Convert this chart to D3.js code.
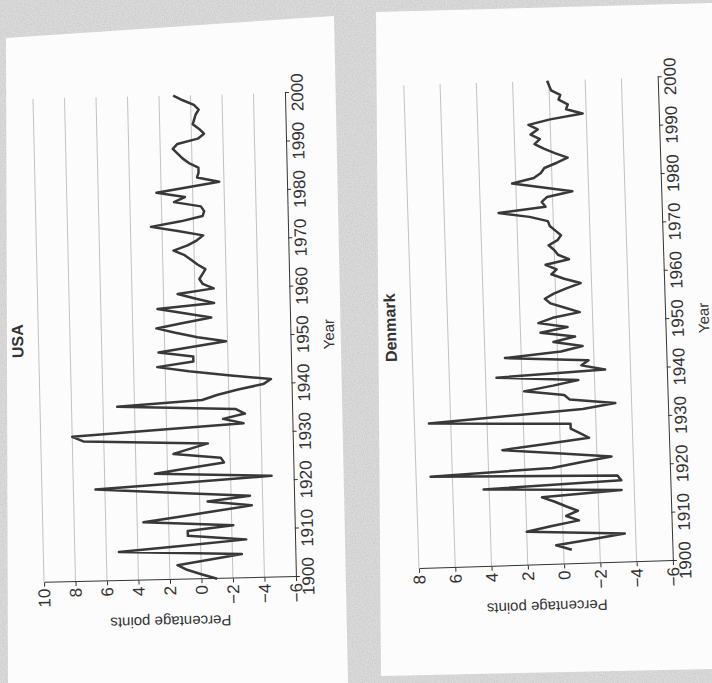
<!DOCTYPE html>
<html><head><meta charset="utf-8">
<script src="https://cdn.jsdelivr.net/npm/d3@7"></script>
<style>html,body{margin:0;padding:0;background:#d6d6d6;overflow:hidden}</style>
</head><body>
<svg id="c" width="712" height="683"></svg>
<script>
// ---------------- data ----------------
const xTickLabels = [1900,1910,1920,1930,1940,1950,1960,1970,1980,1990,2000];
const usaYTicks = [-6,-4,-2,0,2,4,6,8,10];
const dkYTicks  = [-6,-4,-2,0,2,4,6,8];

const usaYears = [1900,1901,1902,1903,1904,1905,1906,1907,1908,1909,1910,1911,1912,1913,1914,1915,1916,1917,1918,1919,
  1920,1921,1922,1923,1924,1925,1926,1927,1928,1929,1930,1931,1932,1933,1934,1935,1936,1937,1938,1939,
  1940,1941,1942,1943,1944,1945,1946,1947,1948,1949,1950,1951,1952,1953,1954,1955,1956,1957,1958,1959,
  1960,1961,1962,1963,1964,1965,1966,1967,1968,1969,1970,1971,1972,1973,1974,1975,1976,1977,1978,1979,
  1980,1981,1982,1983,1984,1985,1986,1987,1988,1989,1990,1991,1992,1993,1994,1995,1996,1997,1998,1999,2000];
const usaValues = [-1.0,0.0,0.9,1.5,-0.6,-2.6,5.2,1.1,-2.9,0.8,0.8,-2.1,3.6,1.3,-1.0,-3.3,-0.5,-3.2,1.7,6.6,
  1.0,-4.6,2.8,0.6,-1.6,-1.4,1.6,0.5,-0.6,7.3,8.0,2.6,-2.9,-1.6,-3.0,-2.4,5.1,-0.3,-1.3,-2.6,
  -4.2,-4.7,-2.0,0.5,2.5,0.2,0.2,2.4,0.3,-1.9,-0.1,1.3,2.5,0.8,-1.0,0.7,2.4,-1.2,0.0,1.1,
  -1.2,-0.5,-0.3,-0.5,-0.7,-0.2,0.2,0.6,1.3,0.4,-0.2,-0.6,1.0,2.7,0.8,-0.6,-0.7,-0.5,1.2,0.5,
  2.3,0.3,-1.7,-0.3,-0.4,-0.4,0.2,0.6,0.9,1.2,0.9,-0.4,-0.8,-0.5,-0.1,-0.2,-0.3,-0.5,-0.2,0.5,1.1];

const dkYears = [1903,1904,1905,1906,1907,1908,1909,1910,1911,1912,1913,1914,1915,1916,1917,1918,1919,
  1920,1921,1922,1923,1924,1925,1926,1927,1928,1929,1930,1931,1932,1933,1934,1935,1936,1937,1938,1939,
  1940,1941,1942,1943,1944,1945,1946,1947,1948,1949,1950,1951,1952,1953,1954,1955,1956,1957,1958,1959,
  1960,1961,1962,1963,1964,1965,1966,1967,1968,1969,1970,1971,1972,1973,1974,1975,1976,1977,1978,1979,
  1980,1981,1982,1983,1984,1985,1986,1987,1988,1989,1990,1991,1992,1993,1994,1995,1996,1997,1998,1999,2000];
const dkValues = [-0.45,0.4,-1.5,-3.4,2.0,0.6,-0.9,-0.2,-0.85,-0.2,0.4,1.1,-3.3,4.3,-3.3,-3.1,7.2,
  0.5,-1.1,-2.8,0.2,3.2,0.8,-1.6,-1.1,-0.6,-0.6,7.2,3.0,-1.3,-3.1,-0.6,-0.3,1.9,0.3,-1.1,3.4,
  -2.6,-1.3,-1.7,2.9,-0.2,-1.4,0.2,-1.0,0.9,-0.6,1.0,0.2,-1.3,-0.5,0.3,0.6,0.1,-0.6,-1.4,-0.5,
  0.2,-0.1,0.5,-0.8,-0.2,0.0,0.3,-0.2,-0.4,-0.1,0.2,0.3,1.3,3.0,0.4,0.6,0.3,-1.1,0.5,2.2,
  1.0,0.6,0.4,-0.3,-0.9,-0.2,0.4,0.9,0.6,1.1,0.7,1.2,0.0,-1.8,-0.9,-1.0,-0.5,-0.6,-0.1,0.0,0.1];

// ---------------- page / background ----------------
const svg = d3.select('#c');
const defs = svg.append('defs');
const f = defs.append('filter').attr('id','noise').attr('x',0).attr('y',0).attr('width','100%').attr('height','100%');
f.append('feTurbulence').attr('type','fractalNoise').attr('baseFrequency',0.9).attr('numOctaves',2).attr('seed',4).attr('result','t');
f.append('feColorMatrix').attr('in','t').attr('type','matrix')
  .attr('values','0 0 0 0 0.55  0 0 0 0 0.55  0 0 0 0 0.55  1.4 0 0 0 -0.45');
svg.append('rect').attr('width',712).attr('height',683).attr('fill','#dcdcdc');
svg.append('rect').attr('width',712).attr('height',683).attr('filter','url(#noise)');

const pages = [
  [[6,38],[334,16],[348,683],[8,683]],
  [[376,12],[712,3],[712,669],[381,676]]
];
svg.selectAll('polygon.page').data(pages).join('polygon').attr('class','page')
  .attr('points', d => d.map(p => p.join(',')).join(' '))
  .attr('fill','#fcfcfc');

// ---------------- panels ----------------
const font = "'Liberation Sans', Arial, Helvetica, sans-serif";
const ink = '#333';

function panel(cfg) {
  const W = 484, H = cfg.H;
  const g = svg.append('g').attr('transform', `translate(${cfg.tx},${cfg.ty}) rotate(${cfg.angle})`);
  const x = d3.scaleLinear().domain([1900, 2000]).range([0, W]);
  const y = d3.scaleLinear().domain([cfg.yTicks[0], cfg.yTicks[cfg.yTicks.length-1]]).range([H, 0]);

  // gridlines
  g.append('g').selectAll('line').data(cfg.yTicks.slice(1)).join('line')
    .attr('x1', 0).attr('x2', W).attr('y1', d => y(d)).attr('y2', d => y(d))
    .attr('stroke', '#a9a9a9').attr('stroke-width', 0.7);

  // axes
  const xa = g.append('g').attr('transform', `translate(0,${H})`)
    .call(d3.axisBottom(x).tickValues(xTickLabels).tickFormat(d3.format('d')).tickSize(4).tickSizeOuter(0).tickPadding(2));
  const ya = g.append('g')
    .call(d3.axisLeft(y).tickValues(cfg.yTicks).tickSize(4).tickSizeOuter(0).tickPadding(2));
  [xa, ya].forEach(a => {
    a.select('.domain').attr('stroke', ink).attr('stroke-width', 1);
    a.selectAll('.tick line').attr('stroke', ink).attr('stroke-width', 1);
    a.selectAll('.tick text').attr('fill', ink).style('font-family', font).style('font-size', '17px');
  });

  // line
  const line = d3.line().x(d => x(d[0])).y(d => y(d[1]));
  g.append('path').datum(cfg.years.map((yr, i) => [yr, cfg.values[i]]))
    .attr('d', line).attr('fill', 'none').attr('stroke', '#383838')
    .attr('stroke-width', 2.5).attr('stroke-linejoin', 'round');

  // texts
  g.append('text').attr('x', W/2).attr('y', -21).attr('text-anchor','middle').attr('dominant-baseline','central')
    .style('font-family', font).style('font-size','16px').style('font-weight','bold').attr('fill', ink).text(cfg.title);
  g.append('text').attr('x', W/2).attr('y', H + 38).attr('text-anchor','middle').attr('dominant-baseline','central')
    .style('font-family', font).style('font-size','15px').attr('fill', ink).text('Year');
  g.append('text').attr('transform', `translate(-42,${H/2}) rotate(-90)`).attr('text-anchor','middle').attr('dominant-baseline','central')
    .style('font-family', font).style('font-size','15px').attr('fill', ink).text('Percentage points');
}

panel({title:'USA', years:usaYears, values:usaValues, yTicks:usaYTicks, H:252, tx:44, ty:582.7, angle:-91.3});
panel({title:'Denmark', years:dkYears, values:dkValues, yTicks:dkYTicks, H:254, tx:419, ty:569, angle:-91.8});
</script>
</body></html>
